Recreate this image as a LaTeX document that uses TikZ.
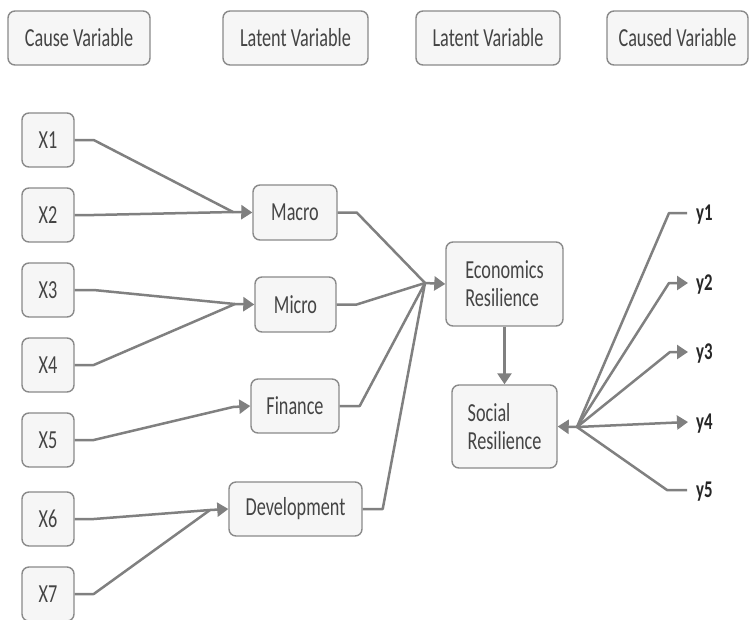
\documentclass[tikz,border=0pt]{standalone}
\usepackage{fontspec}
\setmainfont[FakeStretch=0.70]{Carlito}
\usetikzlibrary{arrows.meta}
\definecolor{boxborder}{HTML}{8A8A8A}
\definecolor{boxfill}{HTML}{F6F6F6}
\definecolor{txt}{HTML}{444444}
\definecolor{linec}{HTML}{808080}
\definecolor{ytxt}{HTML}{262626}
\tikzset{
  box/.style={draw=boxborder, fill=boxfill, rounded corners=7pt, line width=1.4pt,
    text=txt, inner sep=0pt, font=\fontsize{26}{28}\selectfont},
  hbox/.style={box, minimum height=54pt},
  xbox/.style={box, minimum width=52pt, minimum height=54pt},
  lbox/.style={box, minimum height=55pt},
  rbox/.style={box, align=left},
  ylab/.style={inner sep=0pt, text=ytxt, anchor=west, text height=14pt, text depth=0pt,
    font=\fontsize{24}{26}\bfseries\selectfont},
  conn/.style={draw=linec, line width=2.5pt, line join=round},
  arr/.style={conn, -{Triangle[length=11pt,width=14pt]}}
}
\begin{document}
\begin{tikzpicture}[x=1pt,y=-1pt]
\useasboundingbox (0,0) rectangle (749,619);
\fill[white] (0,0) rectangle (749,619);

% header boxes
\node[hbox, minimum width=142pt] (h1) at (79,38) {Cause Variable};
\node[hbox, minimum width=145pt] (h2) at (295.5,38) {Latent Variable};
\node[hbox, minimum width=144pt] (h3) at (488,38) {Latent Variable};
\node[hbox, minimum width=141pt] (h4) at (677.5,38) {Caused Variable};

% cause variables
\node[xbox] (x1) at (48,140) {X1};
\node[xbox] (x2) at (48,215) {X2};
\node[xbox] (x3) at (48,290) {X3};
\node[xbox] (x4) at (48,365) {X4};
\node[xbox] (x5) at (48,440) {X5};
\node[xbox] (x6) at (48,519) {X6};
\node[xbox] (x7) at (48,594) {X7};

% latent variables
\node[lbox, minimum width=84pt] (macro) at (295,212.5) {Macro};
\node[lbox, minimum width=81pt] (micro) at (295.5,304.5) {Micro};
\node[lbox, minimum width=88pt, minimum height=54pt] (fin) at (295,406) {Finance};
\node[lbox, minimum width=133pt, minimum height=54pt] (dev) at (295.5,509) {Development};

\node[rbox, minimum width=117pt, minimum height=84pt] (econ) at (504.5,284) {Economics\\Resilience};
\node[rbox, minimum width=105pt, minimum height=83pt] (soc) at (504.5,426.5) {Social\\Resilience};

% caused variables
\node[ylab] (y1) at (696,213) {y1};
\node[ylab] (y2) at (696,283) {y2};
\node[ylab] (y3) at (696,352) {y3};
\node[ylab] (y4) at (696,422) {y4};
\node[ylab] (y5) at (696,490) {y5};

% junctions
\coordinate (jma) at (233,212);
\coordinate (jmi) at (235,304);
\coordinate (jfi) at (233,407);
\coordinate (jde) at (210,510);
\coordinate (jec) at (425,283);
\coordinate (jso) at (577,427);

% X -> latent
\draw[conn] (x1.east) -- ++(19,0) -- (jma);
\draw[conn] (x2.east) -- ++(19,0) -- (jma);
\draw[arr] (jma) -- (macro.west);
\draw[conn] (x3.east) -- ++(19,0) -- (jmi);
\draw[conn] (x4.east) -- ++(19,0) -- (jmi);
\draw[arr] (jmi) -- (micro.west);
\draw[conn] (x5.east) -- ++(19,0) -- (jfi);
\draw[arr] (jfi) -- (fin.west);
\draw[conn] (x6.east) -- ++(19,0) -- (jde);
\draw[conn] (x7.east) -- ++(19,0) -- (jde);
\draw[arr] (jde) -- (dev.west);

% latent -> economics
\draw[conn] (macro.east) -- ++(19,0) -- (jec);
\draw[conn] (micro.east) -- ++(20,0) -- (jec);
\draw[conn] (fin.east) -- ++(20,0) -- (jec);
\draw[conn] (dev.east) -- ++(20,0) -- (jec);
\draw[arr] (jec) -- (econ.west);

\draw[arr] (econ.south) -- (soc.north);

% social <- y
\draw[arr] (jso) -- (soc.east);
\draw[conn] (jso) -- ([xshift=-27pt]y1.west) -- ([xshift=-9pt]y1.west);
\draw[arr] (jso) -- ([xshift=-27pt]y2.west) -- ([xshift=-8pt]y2.west);
\draw[arr] (jso) -- ([xshift=-26pt]y3.west) -- ([xshift=-8pt]y3.west);
\draw[arr] (jso) -- ([xshift=-8pt]y4.west);
\draw[conn] (jso) -- ([xshift=-29pt]y5.west) -- ([xshift=-9pt]y5.west);
\end{tikzpicture}
\end{document}
